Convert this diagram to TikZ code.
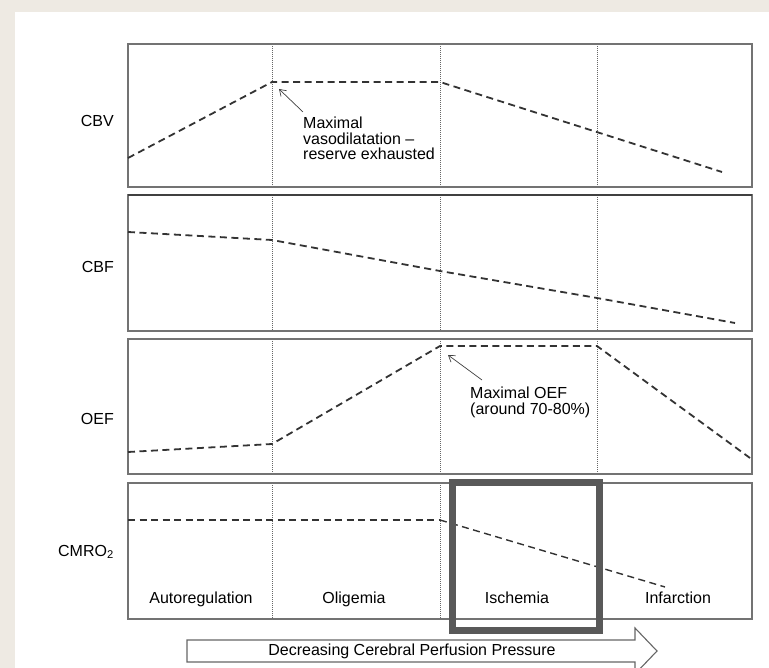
\documentclass[tikz,border=0pt]{standalone}
\usepackage{fontspec}
\setmainfont{Liberation Sans}
\usetikzlibrary{calc,positioning,arrows.meta}
\definecolor{paper}{HTML}{EEEAE3}
\tikzset{
	panel/.style={draw=black!55,line width=1.3pt},
	divider/.style={draw=black!60,line width=0.6pt,dash pattern=on 1pt off 1pt},
	trend/.style={draw=black!80,line width=1.8pt,dash pattern=on 7pt off 4.5pt},
	note/.style={align=left,inner sep=0pt,anchor=north west},
	pointer/.style={draw=black!75,line width=0.7pt,-{Straight Barb[length=6pt,width=8pt]}},
	phase/.style={anchor=base,inner sep=0pt},
	measure/.style={anchor=east,inner sep=0pt}
}

\begin{document}
\begin{tikzpicture}[x=1pt,y=-1pt,font=\fontsize{16}{15.5}\selectfont]
\useasboundingbox (0,0) rectangle (769,668);
\fill[paper] (0,0) rectangle (769,668);
\fill[white] (15,12) rectangle (769,668);
% four panels with the phase dividers
\foreach \t/\b/\ly/\m/\n in {44/187/121/CBV/cbv,195/331/267/CBF/cbf,339/474/419/OEF/oef,483/619/552/CMRO\textsubscript{2}/cmro}{
	\foreach \x in {272,440,597}
		\draw[divider] (\x,\t) -- (\x,\b);
	\draw[panel] (128,\t) rectangle (752,\b);
	\node[measure] (\n) at (114,\ly) {\m};
}
\draw[black!75,line width=1.6pt] (128,195) -- (752,195);
% trends
\draw[trend] (128,158) -- (272,82) -- (440,82) -- (722,172);
\draw[trend] (128,232) -- (272,240) -- (440,271) -- (597,298) -- (735,323);
\draw[trend] (128,452) -- (272,444) -- (440,346) -- (597,346) -- (750,458);
\draw[trend] (128,520) -- (440,520);
\draw[trend,line width=1.4pt] (440,520) -- (665,587);
% notes
\coordinate (cbvmax) at (279,89);
\node[note] (vaso) at (303,117) {Maximal\\vasodilatation --\\reserve exhausted};
\draw[pointer] ($(vaso.north west)+(0,-5)$) -- (cbvmax);
\coordinate (oefmax) at (448,355);
\node[note] (oefnote) at (470,387) {Maximal OEF\\(around 70-80\%)};
\draw[pointer] ($(oefnote.north west)+(12,-7)$) -- (oefmax);
% phases
\foreach \x/\p/\n in {201/Autoregulation/auto,354/Oligemia/olig,517/Ischemia/isch,678/Infarction/infa}
	\node[phase] (\n) at (\x,603) {\p};
% pressure arrow
\draw[black!60,line width=1.1pt,fill=white] (187,640) -- (635,640) -- (635,628) -- (657,651) -- (635,674) -- (635,662) -- (187,662) -- cycle;
\node (cpp) at (412,651) {Decreasing Cerebral Perfusion Pressure};
% highlight
\draw[black!65,line width=7pt] (452,482) rectangle (599,630);
\end{tikzpicture}
\end{document}
